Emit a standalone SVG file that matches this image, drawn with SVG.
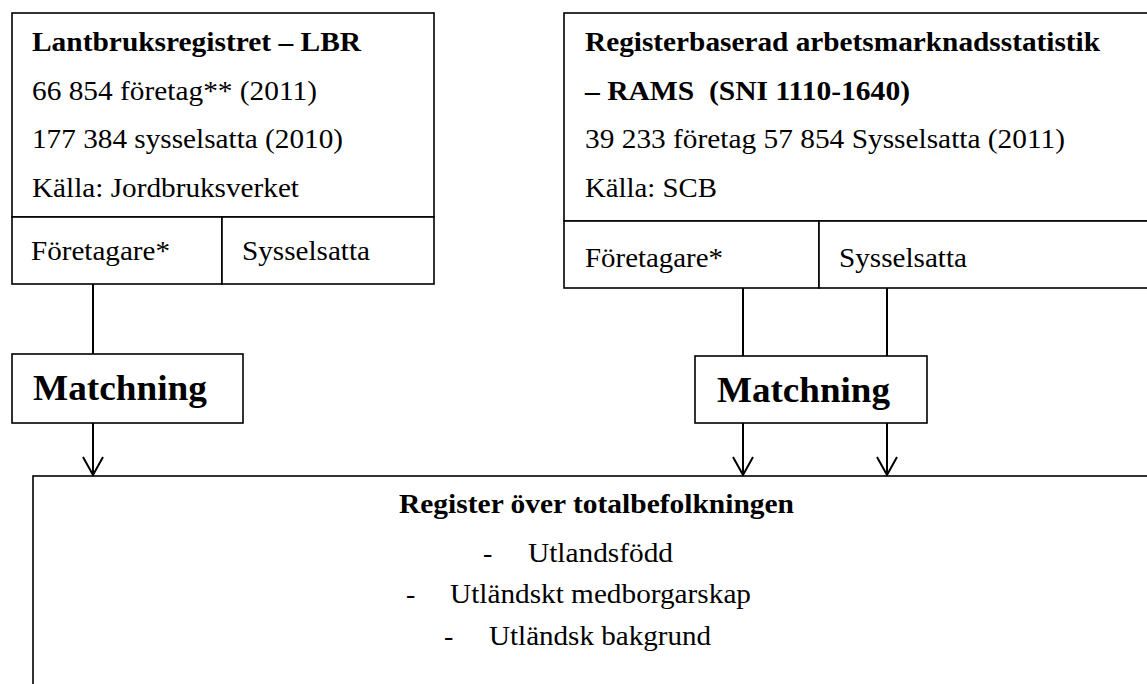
<svg xmlns="http://www.w3.org/2000/svg" width="1147" height="684" viewBox="0 0 1147 684">
<style>
.box{fill:#fff;stroke:#000;stroke-width:1.6}
.t{font-size:28px;fill:#000}
.b{font-weight:bold}
.m{font-size:36px;font-weight:bold;fill:#000}
.c{fill:none;stroke:#000;stroke-width:2}
</style>
<defs>
<marker id="v" markerUnits="userSpaceOnUse" markerWidth="22" markerHeight="22" refX="19" refY="11" orient="auto" viewBox="0 0 22 22">
<path d="M1,1 L19,11 L1,21" fill="none" stroke="#000" stroke-width="2"/>
</marker>
</defs>
<rect width="1147" height="684" fill="#fff"/>
<g font-family="Liberation Serif, Times New Roman, serif">
<g id="lbr">
<rect class="box" x="12" y="13" width="422" height="204"/>
<rect class="box" x="12" y="217" width="210" height="67"/>
<rect class="box" x="222" y="217" width="212" height="67"/>
<text class="t b" x="32" y="51" textLength="329" lengthAdjust="spacingAndGlyphs">Lantbruksregistret – LBR</text>
<text class="t" x="32" y="100" textLength="285" lengthAdjust="spacingAndGlyphs">66 854 företag** (2011)</text>
<text class="t" x="32" y="148" textLength="311" lengthAdjust="spacingAndGlyphs">177 384 sysselsatta (2010)</text>
<text class="t" x="32" y="197" textLength="267" lengthAdjust="spacingAndGlyphs">Källa: Jordbruksverket</text>
<text class="t" x="31" y="260" textLength="139" lengthAdjust="spacingAndGlyphs">Företagare*</text>
<text class="t" x="242" y="260" textLength="128" lengthAdjust="spacingAndGlyphs">Sysselsatta</text>
</g>
<g id="rams">
<rect class="box" x="564" y="13" width="600" height="208"/>
<rect class="box" x="564" y="221" width="255" height="67"/>
<rect class="box" x="819" y="221" width="345" height="67"/>
<text class="t b" x="585" y="51" textLength="515" lengthAdjust="spacingAndGlyphs">Registerbaserad arbetsmarknadsstatistik</text>
<text class="t b" x="585" y="100" textLength="325" lengthAdjust="spacingAndGlyphs" xml:space="preserve">– RAMS  (SNI 1110-1640)</text>
<text class="t" x="585" y="148" textLength="480" lengthAdjust="spacingAndGlyphs">39 233 företag 57 854 Sysselsatta (2011)</text>
<text class="t" x="585" y="197" textLength="132" lengthAdjust="spacingAndGlyphs">Källa: SCB</text>
<text class="t" x="585" y="267" textLength="138" lengthAdjust="spacingAndGlyphs">Företagare*</text>
<text class="t" x="839" y="267" textLength="128" lengthAdjust="spacingAndGlyphs">Sysselsatta</text>
</g>
<g id="match1">
<rect class="box" x="12" y="354" width="231" height="69" stroke-width="2"/>
<text class="m" x="33" y="400" textLength="174" lengthAdjust="spacingAndGlyphs">Matchning</text>
</g>
<g id="match2">
<rect class="box" x="695" y="356" width="232" height="67" stroke-width="2"/>
<text class="m" x="717" y="402" textLength="173" lengthAdjust="spacingAndGlyphs">Matchning</text>
</g>
<g id="rtb">
<rect class="box" x="33" y="476" width="1130" height="230"/>
<text class="t b" x="399" y="513" textLength="395" lengthAdjust="spacingAndGlyphs">Register över totalbefolkningen</text>
<text class="t" x="483" y="562">-</text>
<text class="t" x="528" y="562" textLength="145" lengthAdjust="spacingAndGlyphs">Utlandsfödd</text>
<text class="t" x="406" y="603">-</text>
<text class="t" x="450" y="603" textLength="301" lengthAdjust="spacingAndGlyphs">Utländskt medborgarskap</text>
<text class="t" x="444" y="645">-</text>
<text class="t" x="489" y="645" textLength="222" lengthAdjust="spacingAndGlyphs">Utländsk bakgrund</text>
</g>
</g>
<g id="connectors">
<line class="c" x1="93" y1="284" x2="93" y2="354"/>
<line class="c" x1="93" y1="423" x2="93" y2="475" marker-end="url(#v)"/>
<line class="c" x1="743" y1="288" x2="743" y2="356"/>
<line class="c" x1="887" y1="288" x2="887" y2="356"/>
<line class="c" x1="743" y1="423" x2="743" y2="475" marker-end="url(#v)"/>
<line class="c" x1="887" y1="423" x2="887" y2="475" marker-end="url(#v)"/>
</g>
</svg>
